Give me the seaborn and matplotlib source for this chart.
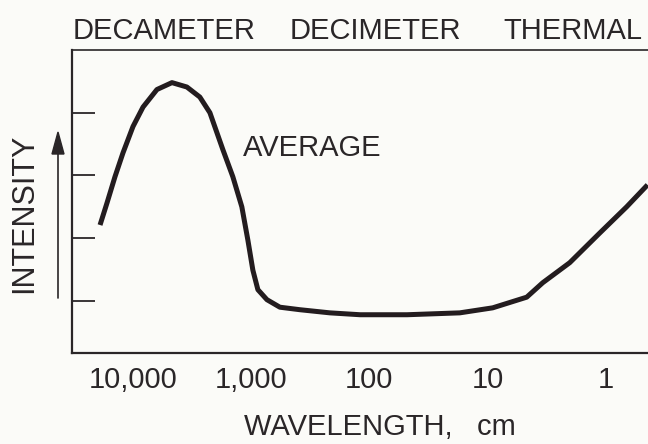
import numpy as np
import pandas as pd
import seaborn as sns
import matplotlib.pyplot as plt

# Values (wavelength in cm, intensity in tick units)
wavelength_cm = [19000, 16600, 14200, 12150, 10000, 8225, 6270, 4680, 3500, 2720,
                 2235, 1735, 1430, 1200, 1067, 968, 878, 736, 572, 387, 216,
                 120, 48, 17.2, 9.06, 4.67, 3.42, 2.02, 1.13, 0.667, 0.444]
intensity = [2.21, 2.56, 2.98, 3.36, 3.78, 4.09, 4.37, 4.48, 4.41, 4.25,
             4.00, 3.41, 2.98, 2.50, 1.97, 1.49, 1.18, 1.02, 0.90, 0.86, 0.81,
             0.78, 0.78, 0.81, 0.89, 1.06, 1.29, 1.61, 2.08, 2.50, 2.85]

x_ticks = [10000, 1000, 100, 10, 1]
x_tick_labels = ["10,000", "1,000", "100", "10", "1"]
y_ticks = [1, 2, 3, 4]
bands = ["DECAMETER", "DECIMETER", "THERMAL"]

df = pd.DataFrame({"wavelength": wavelength_cm, "intensity": intensity})

sns.set_style("white")
plt.rcParams["font.family"] = ["Liberation Sans", "DejaVu Sans"]
ink = "#2a2628"
paper = "#fbfbf8"

fig = plt.figure(figsize=(6.48, 4.44), dpi=100, facecolor=paper)
ax = fig.add_axes([72 / 648, 1 - 353 / 444, 1 - 72 / 648, (353 - 50) / 444])
ax.set_facecolor(paper)

sns.lineplot(data=df, x="wavelength", y="intensity", ax=ax, color="#231c1f",
             linewidth=3.6, solid_joinstyle="round", solid_capstyle="butt")

ax.set_xscale("log")
ax.set_xlim(32800, 0.44)
ax.set_ylim(0.17, 5.0)

ax.set_xticks(x_ticks)
ax.set_xticklabels(x_tick_labels)
ax.minorticks_off()
ax.set_yticks(y_ticks)
ax.set_yticklabels([])

ax.tick_params(axis="x", direction="in", length=13, width=1.3, color=ink,
               labelsize=21, labelcolor=ink, pad=9)
ax.tick_params(axis="y", direction="in", length=16.5, width=1.3, color=ink, left=True)

for side in ["left", "bottom"]:
    ax.spines[side].set_color(ink)
    ax.spines[side].set_linewidth(1.6)
ax.spines["top"].set_color(ink)
ax.spines["top"].set_linewidth(1.2)
ax.spines["right"].set_visible(False)

ax.set_xlabel("WAVELENGTH,   cm", fontsize=21, color=ink)
ax.xaxis.set_label_coords((380 - 72) / 576, (353 - 413) / 303)
ax.set_ylabel("")

ax.text(1175, 3.44, "AVERAGE", fontsize=21, color=ink, ha="left", va="center")

# band names along the top
for name, xc in zip(bands, [164, 375, 573]):
    fig.text(xc / 648, 1 - 31 / 444, name, fontsize=21, color=ink, ha="center", va="center")

# INTENSITY label with arrow
fig.text(24 / 648, 1 - 213 / 444, "INTENSITY", fontsize=22, color=ink, rotation=90,
         ha="center", va="center")
fig.add_artist(plt.Line2D([58 / 648, 58 / 648], [1 - 298 / 444, 1 - 150 / 444],
                          color=ink, linewidth=1.2))
fig.patches.append(plt.Polygon([[52 / 648, 1 - 154 / 444], [64 / 648, 1 - 154 / 444],
                                [58 / 648, 1 - 132 / 444]], closed=True, color=ink,
                               transform=fig.transFigure, figure=fig))

fig.savefig("out.png", dpi=100, facecolor=paper)
